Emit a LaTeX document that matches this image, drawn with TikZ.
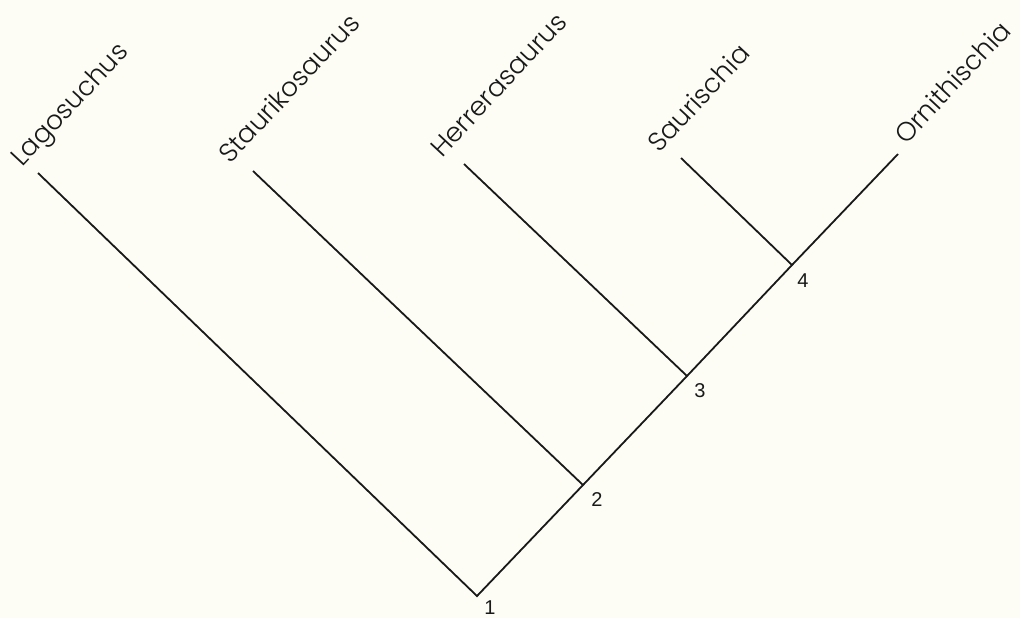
\documentclass[tikz,border=0pt]{standalone}
\usepackage{fontspec}
\setmainfont{Poppins}[UprightFont={* Light}]
\newfontfamily\numfont{Liberation Sans}
\definecolor{bg}{RGB}{253,253,246}
\definecolor{ink}{RGB}{25,25,25}
\begin{document}
\begin{tikzpicture}[x=0.5pt,y=-0.5pt,
  branch/.style={draw=ink,line width=0.9pt},
  taxon/.style={rotate=47,anchor=base west,inner sep=0pt,text=ink,font=\fontsize{13.2}{15}\selectfont},
  num/.style={inner sep=0pt,text=ink,font=\numfont\fontsize{10}{12}\selectfont}]
\fill[bg] (0,0) rectangle (1020,618);
\useasboundingbox (0,0) rectangle (1020,618);
% internal nodes
\coordinate (n1) at (477,596);
\coordinate (n2) at (583,485);
\coordinate (n3) at (687,376);
\coordinate (n4) at (792,265);
% tips
\coordinate (tL) at (38,173);
\coordinate (tS) at (253,171);
\coordinate (tH) at (464,164);
\coordinate (tSa) at (681,158);
\coordinate (tO) at (898,154);
% branches
\draw[branch] (tL) -- (n1) -- (n2) -- (n3) -- (n4) -- (tO);
\draw[branch] (tS) -- (n2);
\draw[branch] (tH) -- (n3);
\draw[branch] (tSa) -- (n4);
% taxon labels
\node[taxon] (lL) at (22,168) {Lagosuchus};
\node[taxon] (lS) at (230,165) {Staurikosaurus};
\node[taxon] (lH) at (442,159) {Herrerasaurus};
\node[taxon] (lSa) at (659,154) {Saurischia};
\node[taxon] (lO) at (906,146) {Ornithischia};
% node numbers
\node[num] (k1) at (490,608) {1};
\node[num] (k2) at (597,499) {2};
\node[num] (k3) at (700,391) {3};
\node[num] (k4) at (803,281) {4};
\end{tikzpicture}
\end{document}
